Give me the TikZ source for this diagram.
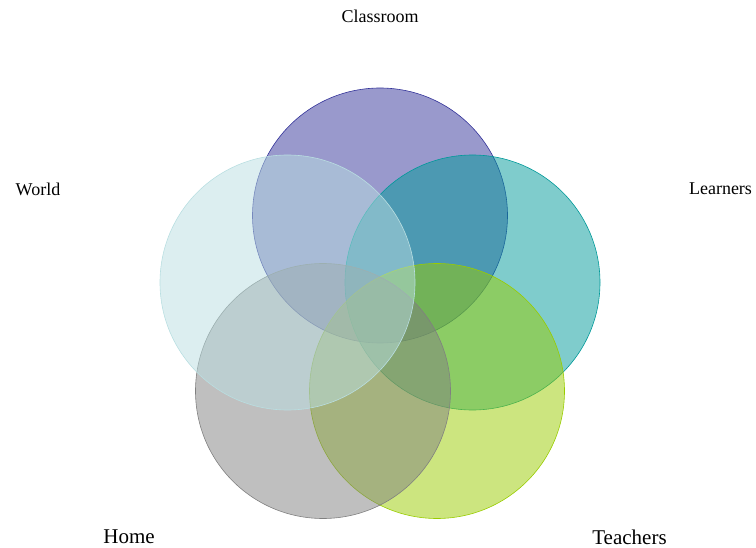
\documentclass[tikz,border=0pt]{standalone}
\usepackage{fontspec}
\setmainfont{Liberation Serif}
\usepackage{tikz}
\usetikzlibrary{positioning}

\definecolor{classcol}{RGB}{51,51,153}
\definecolor{learncol}{RGB}{0,153,153}
\definecolor{teachcol}{RGB}{153,204,0}
\definecolor{homecol}{RGB}{128,128,128}
\definecolor{worldcol}{RGB}{185,222,225}

\begin{document}
\begin{tikzpicture}[x=1pt,y=-1pt,
    set/.style={circle, minimum size=255pt, inner sep=0pt, line width=0.6pt, fill opacity=0.5, draw opacity=1},
    lab/.style={inner sep=0pt, font=\fontsize{18}{20}\selectfont},
    biglab/.style={inner sep=0pt, font=\fontsize{21}{24}\selectfont}]
    \useasboundingbox (0,0) rectangle (756,548);
    % the five sets
    \node[set, draw=classcol, fill=classcol] (classroom) at (380,215.5) {};
    \node[set, draw=learncol, fill=learncol] (learners) at (472.5,282.5) {};
    \node[set, draw=teachcol, fill=teachcol] (teachers) at (437,391) {};
    \node[set, draw=homecol, fill=homecol] (home) at (323,391) {};
    \node[set, draw=worldcol, fill=worldcol] (world) at (287.5,282.5) {};
    % names
    \node[lab] (classroomname) at (380,16) {Classroom};
    \node[lab] (learnersname) at (720.5,189) {Learners};
    \node[lab] (worldname) at (38,189) {World};
    \node[biglab] (homename) at (129,537) {Home};
    \node[biglab] (teachersname) at (629.5,537) {Teachers};
\end{tikzpicture}
\end{document}
